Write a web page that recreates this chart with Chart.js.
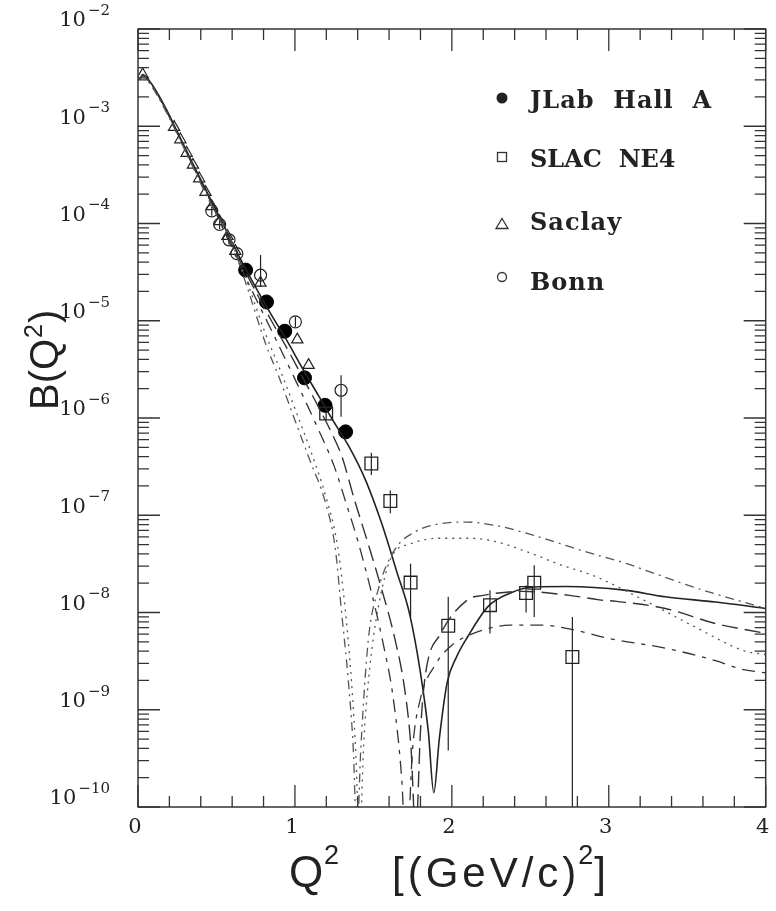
<!DOCTYPE html>
<html>
<head>
<meta charset="utf-8">
<script src="https://cdn.jsdelivr.net/npm/chart.js@4/dist/chart.umd.min.js"></script>
<style>
  html, body { margin: 0; background: #fff; }
  #wrap { width: 776px; height: 911px; }
</style>
</head>
<body>
<div id="wrap"><canvas id="c" width="776" height="911"></canvas></div>
<script>
// 곡선 (이론) — Q² 와 B 값, 그림에서 읽음
const qSolid = [0.01, 0.03, 0.085, 0.18, 0.25, 0.35, 0.45, 0.55, 0.65, 0.75, 0.85, 0.95, 1.05, 1.15, 1.25, 1.35, 1.45, 1.55, 1.65, 1.73, 1.80, 1.85, 1.885, 1.92, 1.97, 2.03, 2.10, 2.23, 2.37, 2.52, 2.73, 3.10, 3.36, 3.68, 4.00];
const bSolid = [3.0e-3, 3.4e-3, 2.75e-3, 1.5e-3, 8.8e-4, 4.1e-4, 1.95e-4, 9.3e-5, 4.4e-5, 2.2e-5, 1.15e-5, 6.2e-6, 3.2e-6, 1.7e-6, 9.0e-7, 4.9e-7, 2.3e-7, 8.5e-8, 2.6e-8, 9.8e-9, 2.4e-9, 6e-10, 1.4e-10, 5e-10, 1.9e-9, 3.5e-9, 5.6e-9, 1.15e-8, 1.58e-8, 1.83e-8, 1.85e-8, 1.7e-8, 1.45e-8, 1.28e-8, 1.1e-8];

const qLong = [0.01, 0.03, 0.085, 0.18, 0.25, 0.35, 0.45, 0.55, 0.65, 0.75, 0.85, 0.95, 1.05, 1.15, 1.25, 1.30, 1.38, 1.46, 1.55, 1.64, 1.70, 1.74, 1.77, 1.80, 1.83, 1.93, 2.10, 2.20, 2.45, 2.75, 2.94, 3.05, 3.36, 3.68, 4.00];
const bLong = [3.0e-3, 3.3e-3, 2.7e-3, 1.45e-3, 8.6e-4, 4.0e-4, 1.9e-4, 8.8e-5, 4.1e-5, 2.0e-5, 1.0e-5, 5.2e-6, 2.6e-6, 1.3e-6, 6.2e-7, 4.0e-7, 1.43e-7, 5.5e-8, 1.8e-8, 5.1e-9, 1.6e-9, 4e-10, 5e-11, 6e-10, 2.2e-9, 6.1e-9, 1.35e-8, 1.5e-8, 1.65e-8, 1.5e-8, 1.35e-8, 1.3e-8, 1.1e-8, 7.7e-9, 6.1e-9];

const qShort = [0.01, 0.03, 0.085, 0.18, 0.25, 0.35, 0.45, 0.55, 0.65, 0.75, 0.85, 0.95, 1.05, 1.15, 1.25, 1.32, 1.40, 1.48, 1.56, 1.63, 1.68, 1.71, 1.75, 1.80, 1.90, 2.00, 2.15, 2.37, 2.58, 2.80, 3.00, 3.36, 3.68, 3.85, 4.00];
const bShort = [3.0e-3, 3.3e-3, 2.7e-3, 1.45e-3, 8.5e-4, 3.9e-4, 1.85e-4, 8.3e-5, 3.7e-5, 1.7e-5, 8.0e-6, 3.7e-6, 1.7e-6, 7.6e-7, 3.2e-7, 1.43e-7, 5.5e-8, 1.8e-8, 5e-9, 1.2e-9, 2e-10, 3e-11, 4e-10, 1.3e-9, 3e-9, 4.6e-9, 6.2e-9, 7.4e-9, 7.4e-9, 6.5e-9, 5.4e-9, 4.3e-9, 3.2e-9, 2.6e-9, 2.4e-9];

const qDashDot = [0.01, 0.03, 0.085, 0.18, 0.25, 0.35, 0.45, 0.52, 0.58, 0.70, 0.81, 0.90, 1.00, 1.10, 1.19, 1.256, 1.298, 1.34, 1.371, 1.395, 1.42, 1.467, 1.53, 1.635, 1.762, 1.93, 2.10, 2.27, 2.48, 2.69, 2.90, 3.11, 3.24, 3.55, 4.00];
const bDashDot = [3.0e-3, 3.3e-3, 2.6e-3, 1.4e-3, 8.3e-4, 3.8e-4, 1.75e-4, 1.1e-4, 7.5e-5, 2.1e-5, 6.0e-6, 2.6e-6, 9.5e-7, 3.5e-7, 1.43e-7, 4.7e-8, 9.8e-9, 2e-9, 4.2e-10, 5e-11, 4e-10, 5.1e-9, 1.7e-8, 4.4e-8, 6.7e-8, 8.2e-8, 8.5e-8, 7.9e-8, 6.5e-8, 5.1e-8, 4.0e-8, 3.2e-8, 2.7e-8, 1.8e-8, 1.1e-8];

const qDot = [0.01, 0.03, 0.085, 0.18, 0.25, 0.35, 0.45, 0.52, 0.58, 0.70, 0.81, 0.90, 1.00, 1.10, 1.20, 1.27, 1.32, 1.36, 1.39, 1.41, 1.44, 1.48, 1.53, 1.614, 1.74, 1.91, 2.10, 2.27, 2.48, 2.69, 2.90, 3.24, 3.55, 3.87, 4.00];
const bDot = [3.0e-3, 3.3e-3, 2.65e-3, 1.42e-3, 8.4e-4, 3.85e-4, 1.8e-4, 1.12e-4, 7.8e-5, 2.4e-5, 7.5e-6, 3.3e-6, 1.25e-6, 4.6e-7, 1.5e-7, 5e-8, 1.1e-8, 2e-9, 3e-10, 4e-11, 5e-10, 3e-9, 1.1e-8, 3.7e-8, 5.1e-8, 5.8e-8, 5.8e-8, 5.4e-8, 4.2e-8, 3.1e-8, 2.4e-8, 1.3e-8, 7.1e-9, 4.0e-9, 3.7e-9];

// 실험 데이터
const qJLab = [0.686, 0.819, 0.935, 1.061, 1.192, 1.323];
const bJLab = [3.32e-5, 1.56e-5, 7.8e-6, 2.59e-6, 1.35e-6, 7.2e-7];

const qSLAC = [1.199, 1.487, 1.608, 1.737, 1.977, 2.243, 2.473, 2.525, 2.768];
const bSLAC = [1.11e-6, 3.4e-7, 1.40e-7, 2.03e-8, 7.3e-9, 1.19e-8, 1.59e-8, 2.02e-8, 3.48e-9];
const loSLAC = [0.95e-6, 2.6e-7, 1.05e-7, 9.0e-9, 3.8e-10, 6.1e-9, 1.0e-8, 9.0e-9, 1e-12];
const hiSLAC = [1.3e-6, 4.4e-7, 1.8e-7, 3.18e-8, 1.45e-8, 1.69e-8, 1.9e-8, 3.06e-8, 9.0e-9];

const qSaclay = [0.03, 0.23, 0.27, 0.31, 0.35, 0.39, 0.43, 0.47, 0.52, 0.57, 0.62, 0.78, 1.015, 1.087];
const bSaclay = [3.4e-3, 9.8e-4, 7.3e-4, 5.3e-4, 4.0e-4, 2.9e-4, 2.1e-4, 1.5e-4, 1.05e-4, 7.4e-5, 5.2e-5, 2.45e-5, 6.4e-6, 3.5e-6];

const qBonn = [0.47, 0.52, 0.58, 0.63, 0.781, 1.003, 1.294];
const bBonn = [1.35e-4, 9.8e-5, 6.8e-5, 4.9e-5, 2.94e-5, 9.75e-6, 1.93e-6];
const loBonn = [1.2e-4, 8.8e-5, 6.1e-5, 4.4e-5, 2.23e-5, 8.6e-6, 1.03e-6];
const hiBonn = [1.5e-4, 1.1e-4, 7.6e-5, 5.5e-5, 4.73e-5, 1.1e-5, 2.75e-6];

const yDecades = [-2, -3, -4, -5, -6, -7, -8, -9, -10];
const xTicks = [0, 1, 2, 3, 4];

const pts = (q, b) => q.map((x, i) => ({ x, y: b[i] }));

const curve = (q, b, dash, color, w) => ({
  data: pts(q, b), showLine: true, pointRadius: 0, borderColor: color, borderWidth: w,
  borderDash: dash, cubicInterpolationMode: 'monotone', fill: false,
});

const serif = '"DejaVu Serif", serif';
const sans = '"Liberation Sans", Arial, sans-serif';

function sup(n) { return '\u2212' + String(-n); }

const axesPlugin = {
  id: 'axesPlugin',
  beforeDatasetsDraw(chart) {
    const { ctx, chartArea: a, scales: { x, y } } = chart;
    ctx.save();
    ctx.beginPath();
    ctx.rect(a.left, a.top, a.right - a.left, a.bottom - a.top);
    ctx.clip();
    ctx.strokeStyle = '#222';
    ctx.lineWidth = 1.2;
    const bars = [[qSLAC, loSLAC, hiSLAC], [qBonn, loBonn, hiBonn]];
    bars.forEach(([q, lo, hi]) => {
      q.forEach((v, i) => {
        const px = x.getPixelForValue(v);
        ctx.beginPath();
        ctx.moveTo(px, y.getPixelForValue(lo[i]));
        ctx.lineTo(px, y.getPixelForValue(hi[i]));
        ctx.stroke();
      });
    });
    ctx.restore();
  },
  afterDatasetsDraw(chart) {
    const { ctx, chartArea: a, scales: { x, y } } = chart;
    ctx.save();
    ctx.strokeStyle = '#333';
    ctx.lineWidth = 1.5;
    ctx.strokeRect(a.left, a.top, a.right - a.left, a.bottom - a.top);

    // 눈금 (안쪽)
    ctx.lineWidth = 1.3;
    ctx.beginPath();
    for (let e = -10; e <= -2; e++) {
      for (let m = 1; m <= 9; m++) {
        if (e === -2 && m > 1) break;
        const py = y.getPixelForValue(m * Math.pow(10, e));
        const len = m === 1 ? 22 : 11;
        ctx.moveTo(a.left, py); ctx.lineTo(a.left + len, py);
        ctx.moveTo(a.right, py); ctx.lineTo(a.right - len, py);
      }
    }
    for (let k = 0; k <= 20; k++) {
      const v = k * 0.2;
      const px = x.getPixelForValue(v);
      const len = k % 5 === 0 ? 22 : 11;
      ctx.moveTo(px, a.bottom); ctx.lineTo(px, a.bottom - len);
      ctx.moveTo(px, a.top); ctx.lineTo(px, a.top + len);
    }
    ctx.stroke();

    // y 눈금 라벨
    ctx.fillStyle = '#222';
    ctx.textBaseline = 'middle';
    yDecades.forEach((e) => {
      const py = y.getPixelForValue(Math.pow(10, e));
      ctx.font = '15px ' + serif;
      ctx.textAlign = 'right';
      const s = sup(e);
      const sw = ctx.measureText(s).width;
      ctx.fillText(s, 110, py - 18);
      ctx.font = '21px ' + serif;
      ctx.fillText('10', 110 - sw - 2, py - 8);
    });

    // x 눈금 라벨
    ctx.font = '21px ' + serif;
    ctx.textAlign = 'center';
    xTicks.forEach((v) => {
      ctx.fillText(String(v), x.getPixelForValue(v) - 3, 828);
    });

    // 축 제목
    ctx.textAlign = 'left';
    ctx.textBaseline = 'alphabetic';
    ctx.font = '44px ' + sans;
    ctx.fillText('Q', 289, 887);
    ctx.font = '27px ' + sans;
    ctx.fillText('2', 324, 864);
    ctx.font = '42px ' + sans;
    ctx.letterSpacing = '4px';
    ctx.fillText('[(GeV/c)', 392, 887);
    const w1 = ctx.measureText('[(GeV/c)').width;
    ctx.letterSpacing = '0px';
    ctx.font = '27px ' + sans;
    ctx.fillText('2', 392 + w1 - 2, 864);
    ctx.font = '42px ' + sans;
    ctx.fillText(']', 392 + w1 + 14, 887);

    ctx.save();
    ctx.translate(58, 410);
    ctx.rotate(-Math.PI / 2);
    ctx.font = '40px ' + sans;
    ctx.fillText('B(Q', 0, 0);
    const w2 = ctx.measureText('B(Q').width;
    ctx.font = '25px ' + sans;
    ctx.fillText('2', w2 + 1, -16);
    ctx.font = '40px ' + sans;
    ctx.fillText(')', w2 + 16, 0);
    ctx.restore();

    // 범례
    const rows = [
      ['JLab  Hall  A', 98, 102, 'fc'],
      ['SLAC  NE4', 157, 161, 'sq'],
      ['Saclay', 224, 224, 'tri'],
      ['Bonn', 277, 284, 'oc'],
    ];
    ctx.lineWidth = 1.3;
    ctx.strokeStyle = '#333';
    rows.forEach(([t, my, ty, m]) => {
      const mx = 502;
      ctx.beginPath();
      if (m === 'fc') { ctx.arc(mx, my, 5.5, 0, Math.PI * 2); ctx.fill(); }
      if (m === 'sq') { ctx.strokeRect(mx - 4.5, my - 4.5, 9, 9); }
      if (m === 'tri') { ctx.moveTo(mx, my - 5.5); ctx.lineTo(mx + 6, my + 4.5); ctx.lineTo(mx - 6, my + 4.5); ctx.closePath(); ctx.stroke(); }
      if (m === 'oc') { ctx.arc(mx, my, 4.5, 0, Math.PI * 2); ctx.stroke(); }
      ctx.font = 'bold 24px ' + serif;
      ctx.textBaseline = 'middle';
      ctx.letterSpacing = m === 'sq' ? '0px' : '1px';
      ctx.fillText(t, 530, ty);
    });
    ctx.restore();
  },
};

new Chart(document.getElementById('c'), {
  type: 'scatter',
  data: {
    datasets: [
      curve(qDot, bDot, [2, 5], '#555', 1.3),
      curve(qDashDot, bDashDot, [9, 5, 2, 5], '#555', 1.3),
      curve(qShort, bShort, [13, 7, 4, 7], '#333', 1.3),
      curve(qLong, bLong, [16, 7], '#333', 1.4),
      curve(qSolid, bSolid, [], '#222', 1.6),
      { data: pts(qSaclay, bSaclay), pointStyle: 'triangle', pointRadius: 6.5, pointBorderColor: '#222', pointBackgroundColor: 'rgba(0,0,0,0)', pointBorderWidth: 1.2 },
      { data: pts(qBonn, bBonn), pointStyle: 'circle', pointRadius: 6, pointBorderColor: '#222', pointBackgroundColor: 'rgba(0,0,0,0)', pointBorderWidth: 1.2 },
      { data: pts(qSLAC, bSLAC), pointStyle: 'rect', pointRadius: 9, pointBorderColor: '#222', pointBackgroundColor: 'rgba(0,0,0,0)', pointBorderWidth: 1.3 },
      { data: pts(qJLab, bJLab), pointStyle: 'circle', pointRadius: 7, pointBorderColor: '#000', pointBackgroundColor: '#000', pointBorderWidth: 1 },
    ],
  },
  options: {
    responsive: false,
    animation: false,
    devicePixelRatio: 1,
    layout: { padding: { left: 138, right: 6, top: 29, bottom: 104 } },
    plugins: { legend: { display: false }, tooltip: { enabled: false } },
    scales: {
      x: { type: 'linear', min: 0, max: 4, display: false },
      y: { type: 'logarithmic', min: 1e-10, max: 1e-2, display: false },
    },
  },
  plugins: [axesPlugin],
});
</script>
</body>
</html>
